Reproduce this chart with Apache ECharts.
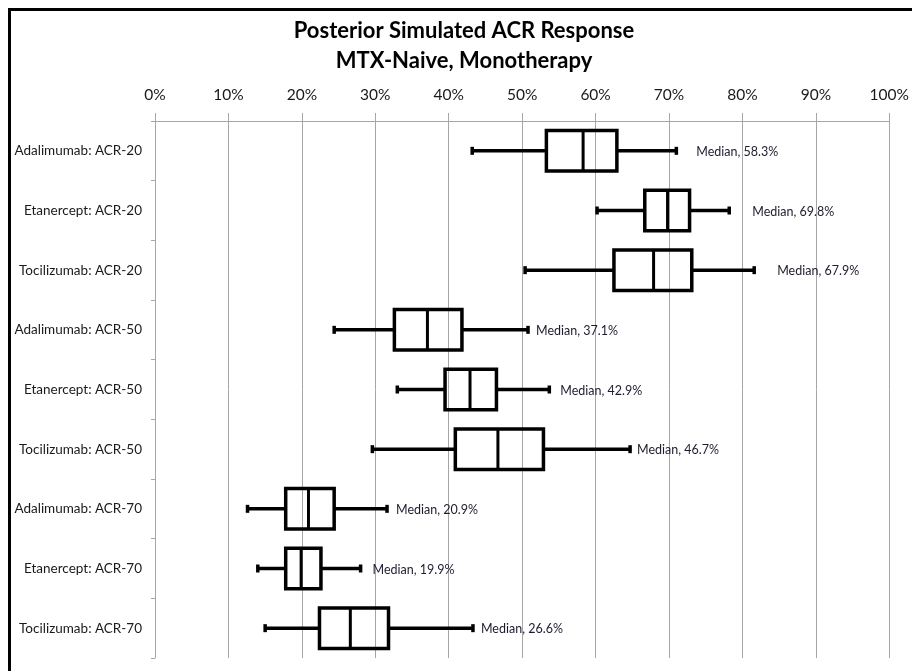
<!DOCTYPE html>
<html>
<head>
<meta charset="utf-8">
<script src="https://cdn.jsdelivr.net/npm/echarts@6/dist/echarts.min.js"></script>
<style>
html,body{margin:0;padding:0;background:#fff;}
#chart{width:912px;height:671px;}
</style>
</head>
<body>
<div id="chart"></div>
<script>
// Categories, top to bottom
var categories = [
  'Adalimumab: ACR-20', 'Etanercept: ACR-20', 'Tocilizumab: ACR-20',
  'Adalimumab: ACR-50', 'Etanercept: ACR-50', 'Tocilizumab: ACR-50',
  'Adalimumab: ACR-70', 'Etanercept: ACR-70', 'Tocilizumab: ACR-70'
];
// Whisker low, Q1, median, Q3, whisker high (percent)
var whiskerLow  = [43.2, 60.2, 50.4, 24.4, 33.0, 29.6, 12.6, 14.0, 15.0];
var q1          = [53.3, 66.7, 62.5, 32.6, 39.5, 40.9, 17.8, 17.8, 22.4];
var median      = [58.3, 69.8, 67.9, 37.1, 42.9, 46.7, 20.9, 19.9, 26.6];
var q3          = [62.9, 72.8, 73.1, 41.8, 46.5, 52.9, 24.4, 22.6, 31.8];
var whiskerHigh = [71.0, 78.2, 81.6, 50.8, 53.7, 64.7, 31.6, 28.0, 43.3];
var tickLabels  = ['0%','10%','20%','30%','40%','50%','60%','70%','80%','90%','100%'];

// label gap (px) after upper whisker, as laid out in the original
var labelGap = [20, 23, 23, 8, 11, 7, 9, 12, 8];

var seriesData = categories.map(function (c, i) {
  return [i, whiskerLow[i], q1[i], median[i], q3[i], whiskerHigh[i]];
});

var FONT = 'Lato, "Open Sans", sans-serif';

function renderItem(params, api) {
  var cat = api.value(0);
  var idx = params.dataIndex;
  var pLo = api.coord([api.value(1), cat]);
  var pQ1 = api.coord([api.value(2), cat]);
  var pMd = api.coord([api.value(3), cat]);
  var pQ3 = api.coord([api.value(4), cat]);
  var pHi = api.coord([api.value(5), cat]);
  var band = api.size([0, 1])[1];
  var h = band * 0.68;
  var y = pLo[1];
  var capH = 8;
  var lw = 3.5;
  var stroke = {stroke: '#000', lineWidth: lw, fill: null};
  return {
    type: 'group',
    children: [
      {type: 'line', shape: {x1: pLo[0], y1: y, x2: pQ1[0], y2: y}, style: stroke},
      {type: 'line', shape: {x1: pQ3[0], y1: y, x2: pHi[0], y2: y}, style: stroke},
      {type: 'line', shape: {x1: pLo[0], y1: y - capH / 2, x2: pLo[0], y2: y + capH / 2}, style: stroke},
      {type: 'line', shape: {x1: pHi[0], y1: y - capH / 2, x2: pHi[0], y2: y + capH / 2}, style: stroke},
      {type: 'rect', shape: {x: pQ1[0], y: y - h / 2, width: pQ3[0] - pQ1[0], height: h}, style: {stroke: '#000', lineWidth: lw, fill: 'none'}},
      {type: 'line', shape: {x1: pMd[0], y1: y - h / 2, x2: pMd[0], y2: y + h / 2}, style: {stroke: '#000', lineWidth: 3}},
      {type: 'text', x: pHi[0] + labelGap[idx], y: y + 1,
        style: {text: 'Median, ' + median[idx].toFixed(1) + '%', fill: '#1c1c2e',
          font: '12.5px ' + FONT, textAlign: 'left', textVerticalAlign: 'middle'}}
    ]
  };
}

var chart = echarts.init(document.getElementById('chart'), null, {renderer: 'canvas'});
chart.setOption({
  backgroundColor: '#fff',
  animation: false,
  title: [
    {text: 'Posterior Simulated ACR Response', left: 464, top: 20, textAlign: 'center', padding: 0,
      textStyle: {fontFamily: FONT, fontWeight: 'bold', fontSize: 22, color: '#000'}},
    {text: 'MTX-Naive, Monotherapy', left: 464, top: 50, textAlign: 'center', padding: 0,
      textStyle: {fontFamily: FONT, fontWeight: 'bold', fontSize: 22, color: '#000'}}
  ],
  graphic: [
    {type: 'rect', shape: {x: 9.5, y: 9.5, width: 1000, height: 1000},
      style: {stroke: '#000', lineWidth: 3, fill: 'none'}, silent: true}
  ],
  grid: {left: 155, right: 22, top: 121, bottom: 13, containLabel: false},
  xAxis: {
    type: 'value', position: 'top', min: 0, max: 100, interval: 10,
    axisLine: {show: true, lineStyle: {color: '#a6a6a6', width: 1}},
    axisTick: {show: true, length: 8, lineStyle: {color: '#a6a6a6'}},
    axisLabel: {margin: 18, fontFamily: FONT, fontSize: 15.5, color: '#1a1a1a',
      formatter: function (v) { return tickLabels[Math.round(v / 10)]; }},
    splitLine: {show: true, lineStyle: {color: '#a6a6a6', width: 1}}
  },
  yAxis: {
    type: 'category', data: categories, inverse: true,
    axisLine: {show: true, lineStyle: {color: '#a6a6a6', width: 1}},
    axisTick: {show: true, length: 4, lineStyle: {color: '#a6a6a6'}},
    axisLabel: {margin: 13, fontFamily: FONT, fontSize: 13.5, color: '#1a1a1a'},
    splitLine: {show: false}
  },
  series: [{
    type: 'custom',
    renderItem: renderItem,
    encode: {x: [1, 2, 3, 4, 5], y: 0},
    data: seriesData,
    clip: false,
    z: 5
  }]
});
</script>
</body>
</html>
